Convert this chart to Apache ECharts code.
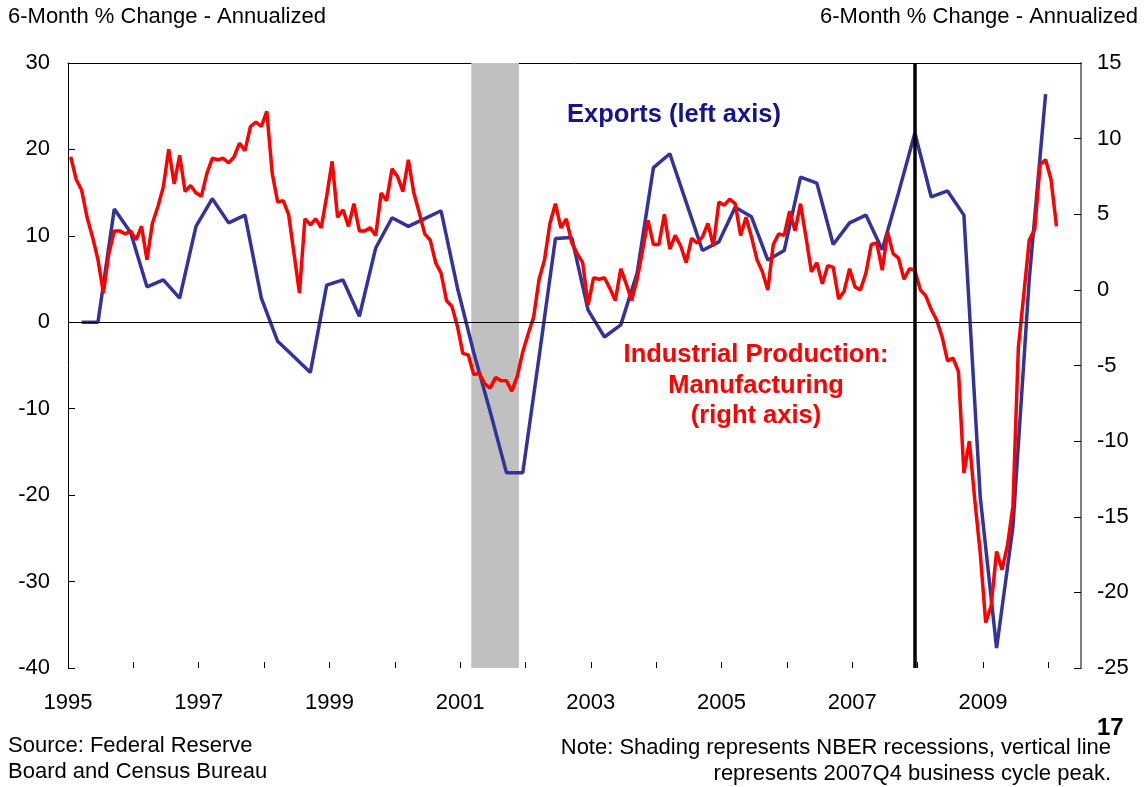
<!DOCTYPE html>
<html>
<head>
<meta charset="utf-8">
<script src="https://cdn.jsdelivr.net/npm/echarts@6/dist/echarts.min.js"></script>
<style>
  html, body { margin: 0; padding: 0; background: #fff; }
  #chart { width: 1145px; height: 787px; }
</style>
</head>
<body>
<div id="chart"></div>
<script>
// exports, quarterly from 1995Q1 (left axis)
const exportsQ = [
  0, 0, 13.1, 10.4, 4.1, 4.9, 2.8, 11.1, 14.3, 11.5, 12.4, 2.8,
  -2.2, -4.0, -5.8, 4.3, 4.9, 0.7, 8.6, 12.1, 11.1, 12.0, 12.9, 4.0,
  -3.5, -10.3, -17.4, -17.4, -4.0, 9.7, 9.8, 1.4, -1.7, -0.3, 5.7, 17.9,
  19.5, 13.9, 8.3, 9.3, 13.3, 12.2, 7.2, 8.3, 16.8, 16.1, 9.0, 11.5,
  12.4, 8.4, 15.0, 21.9, 14.5, 15.2, 12.4, -20.2, -37.7, -23.7, 5.0, 26.4
];
// industrial production: manufacturing, monthly from Jan 1995 (right axis)
const ipM = [
  8.8, 7.3, 6.6, 4.8, 3.5, 2.0, -0.2, 2.4, 3.9, 3.9, 3.7, 3.9,
  3.3, 4.2, 2.0, 4.4, 5.5, 6.8, 9.3, 7.0, 8.9, 6.5, 6.9, 6.4,
  6.2, 7.7, 8.7, 8.6, 8.7, 8.4, 8.8, 9.7, 9.2, 10.8, 11.1, 10.8,
  11.8, 7.7, 5.8, 5.9, 5.0, 2.4, -0.2, 4.7, 4.3, 4.7, 4.1, 6.2,
  8.5, 4.8, 5.3, 4.2, 5.7, 3.9, 3.9, 4.1, 3.6, 6.4, 5.9, 8.0,
  7.5, 6.5, 8.6, 6.4, 5.1, 3.7, 3.3, 1.8, 1.1, -0.7, -1.1, -2.4,
  -4.2, -4.3, -5.6, -5.5, -6.2, -6.5, -5.8, -6.0, -6.0, -6.7, -5.7, -4.1,
  -2.9, -1.8, 0.7, 2.0, 4.4, 5.7, 4.1, 4.7, 3.1, 2.4, 1.8, -1.0,
  0.8, 0.7, 0.8, 0.1, -0.7, 1.4, 0.4, -0.7, 0.7, 2.6, 4.6, 3.0,
  3.0, 5.0, 2.7, 3.6, 2.9, 1.8, 3.4, 3.1, 3.5, 4.4, 2.9, 5.8,
  5.6, 6.0, 5.7, 3.6, 4.8, 3.5, 2.0, 1.2, 0.0, 3.0, 3.7, 3.6,
  5.2, 3.9, 5.7, 3.5, 1.2, 1.8, 0.4, 1.6, 1.5, -0.6, -0.1, 1.4,
  0.2, 0.0, 1.1, 3.0, 3.1, 1.3, 3.8, 2.4, 2.1, 0.7, 1.4, 1.3,
  0.0, -0.4, -1.3, -2.0, -3.1, -4.7, -4.5, -5.4, -12.1, -10.0, -13.9, -17.4,
  -22.0, -20.9, -17.3, -18.5, -16.9, -14.3, -3.8, -0.3, 3.3, 4.0, 8.3, 8.6,
  7.3, 4.2
];
const startYear = 1995;
const recession = [2001.17, 2001.9];
const cyclePeak = 2007.95;
const leftTicks = [-40, -30, -20, -10, 0, 10, 20, 30];
const rightTicks = [-25, -20, -15, -10, -5, 0, 5, 10, 15];

const exportsData = exportsQ.map((v, k) => [startYear + (3 * k + 2.5) / 12, v]);
const ipData = ipM.map((v, m) => [startYear + (m + 0.5) / 12, v]);

const FONT = '"Liberation Sans", Arial, sans-serif';
const chart = echarts.init(document.getElementById('chart'));

chart.setOption({
  animation: false,
  textStyle: { fontFamily: FONT },
  grid: { left: 68, right: 64, top: 63, bottom: 119 },
  xAxis: [
    {
      type: 'value', min: 1995, max: 2010.5, interval: 1,
      axisLine: { show: false, onZero: false },
      axisTick: { show: true, inside: true, length: 6, lineStyle: { color: '#000' } },
      splitLine: { show: false },
      axisLabel: {
        showMaxLabel: false, margin: 24, fontSize: 22, color: '#000', fontFamily: FONT,
        formatter: v => (v % 2 === 1 ? String(v) : '')
      }
    },
    {
      type: 'value', position: 'top', min: 1995, max: 2010.5,
      axisLine: { show: true, onZero: false, lineStyle: { color: '#000', width: 1 } },
      axisTick: { show: false }, axisLabel: { show: false }, splitLine: { show: false }
    }
  ],
  yAxis: [
    {
      type: 'value', min: leftTicks[0], max: leftTicks[leftTicks.length - 1], interval: 10,
      axisLine: { show: true, onZero: false, lineStyle: { color: '#000', width: 1 } },
      axisTick: { show: true, inside: true, length: 7, lineStyle: { color: '#000' } },
      splitLine: { show: false },
      axisLabel: { margin: 18, fontSize: 22, color: '#000', fontFamily: FONT }
    },
    {
      type: 'value', min: rightTicks[0], max: rightTicks[rightTicks.length - 1], interval: 5,
      axisLine: { show: true, onZero: false, lineStyle: { color: '#808080', width: 2 } },
      axisTick: { show: true, inside: true, length: 7, lineStyle: { color: '#000' } },
      splitLine: { show: false },
      axisLabel: { margin: 16, fontSize: 22, color: '#000', fontFamily: FONT }
    }
  ],
  series: [
    {
      name: 'Industrial Production: Manufacturing',
      type: 'line', yAxisIndex: 1, data: ipData,
      symbol: 'none', z: 3,
      lineStyle: { color: '#ff0000', width: 3.5 },
      markArea: {
        silent: true,
        itemStyle: { color: '#c0c0c0' },
        data: [[{ xAxis: recession[0] }, { xAxis: recession[1] }]]
      }
    },
    {
      name: 'Exports',
      type: 'line', yAxisIndex: 0, data: exportsData,
      symbol: 'none', z: 2,
      lineStyle: { color: '#333399', width: 3.5 },
      markLine: {
        silent: true, symbol: 'none', label: { show: false },
        data: [
          { yAxis: 0, lineStyle: { color: '#000', width: 1, type: 'solid' } },
          { xAxis: cyclePeak, lineStyle: { color: '#000', width: 3.5, type: 'solid' } }
        ]
      }
    }
  ],
  graphic: [
    { type: 'text', left: 8, top: 6, style: { text: '6-Month % Change - Annualized', font: '22px ' + FONT, fill: '#000' } },
    { type: 'text', right: 7, top: 6, style: { text: '6-Month % Change - Annualized', font: '22px ' + FONT, fill: '#000' } },
    { type: 'text', left: 567, top: 102, style: { text: 'Exports (left axis)', font: 'bold 25.5px ' + FONT, fill: '#14148c' } },
    { type: 'text', x: 756, y: 340, style: { text: 'Industrial Production:\nManufacturing\n(right axis)', font: 'bold 25.5px ' + FONT, fill: '#ff0000', align: 'center', verticalAlign: 'top', lineHeight: 30.5 } },
    { type: 'text', left: 8, top: 733, style: { text: 'Source: Federal Reserve\nBoard and Census Bureau', font: '22px ' + FONT, fill: '#000', lineHeight: 26 } },
    { type: 'text', x: 1111, y: 735, style: { text: 'Note: Shading represents NBER recessions, vertical line\nrepresents 2007Q4 business cycle peak.', font: '22px ' + FONT, fill: '#000', align: 'right', verticalAlign: 'top', lineHeight: 26 } },
    { type: 'text', left: 1097, top: 716, style: { text: '17', font: 'bold 24px ' + FONT, fill: '#000' } }
  ]
});
</script>
</body>
</html>
